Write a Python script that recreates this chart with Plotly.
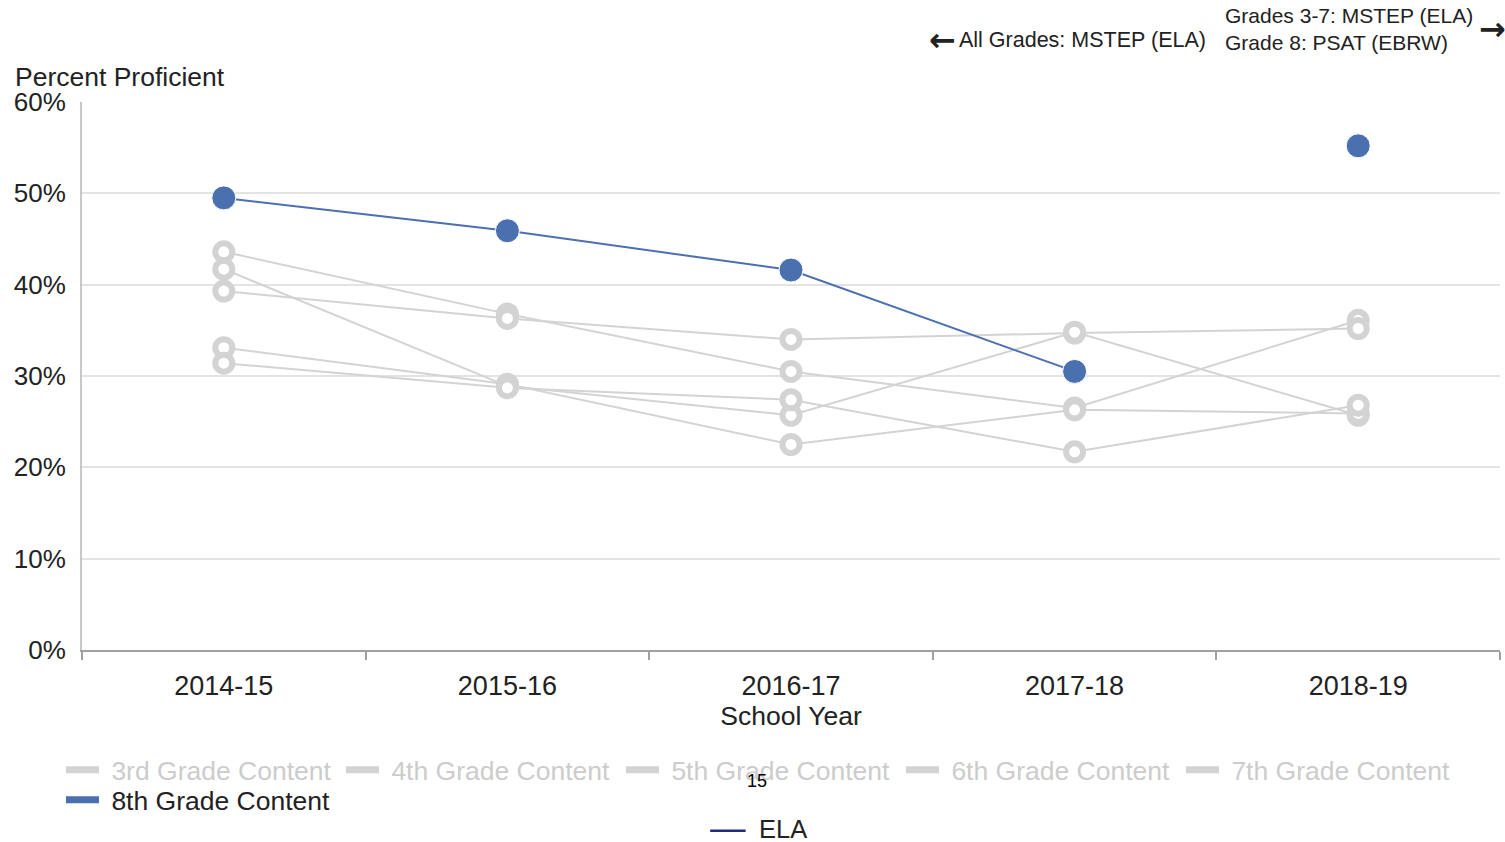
import plotly.graph_objects as go

# School years on the x axis
years = ['2014-15', '2015-16', '2016-17', '2017-18', '2018-19']

# Percent proficient by grade content
grade3 = [43.6, 36.8, 30.5, 26.5, 36.1]
grade4 = [39.3, 36.3, 34.0, 34.7, 35.2]
grade5 = [41.7, 28.9, 25.7, 34.8, 25.7]
grade6 = [33.1, 29.1, 22.5, 26.3, 25.9]
grade7 = [31.4, 28.7, 27.4, 21.7, 26.8]
grade8 = [49.5, 45.9, 41.6, 30.5, 55.2]

grey_names = ['3rd Grade Content', '4th Grade Content', '5th Grade Content',
              '6th Grade Content', '7th Grade Content']
grey_series = [grade3, grade4, grade5, grade6, grade7]

yticks = [0, 10, 20, 30, 40, 50, 60]
ytick_labels = ['0%', '10%', '20%', '30%', '40%', '50%', '60%']

GREY = '#d3d3d3'
BLUE = '#4a70b0'
FONT = 'Liberation Sans, Arial, sans-serif'
TXT = '#222222'

fig = go.Figure()

# grey grade lines (open rings)
for name, vals in zip(grey_names, grey_series):
    fig.add_trace(go.Scatter(
        x=years, y=vals, mode='lines+markers', name=name, showlegend=False,
        line=dict(color=GREY, width=2),
        marker=dict(symbol='circle', size=17, color='white',
                    line=dict(color=GREY, width=6)),
        cliponaxis=False
    ))

# 8th grade: line only through 2017-18 (test changes in 2018-19)
fig.add_trace(go.Scatter(
    x=years[:4], y=grade8[:4], mode='lines', showlegend=False,
    line=dict(color=BLUE, width=2)
))
fig.add_trace(go.Scatter(
    x=years, y=grade8, mode='markers', showlegend=False,
    marker=dict(size=24, color=BLUE, line=dict(color='white', width=1)),
    cliponaxis=False
))

# legend entries (thick bar symbols); 8th grade sits on its own row
for name in grey_names:
    fig.add_trace(go.Scatter(
        x=[None], y=[None], mode='lines',
        name="<span style='color:#cccccc'>\u00a0%s</span>" % name,
        line=dict(color=GREY, width=7), legend='legend'
    ))
fig.add_trace(go.Scatter(
    x=[None], y=[None], mode='lines', name='\u00a08th Grade Content',
    line=dict(color=BLUE, width=7), legend='legend2'
))

legend_style = dict(
    orientation='h', xanchor='left', yanchor='top',
    entrywidth=232, entrywidthmode='pixels', itemwidth=33,
    font=dict(size=26.5, color=TXT), bgcolor='rgba(0,0,0,0)',
    itemclick=False, itemdoubleclick=False
)

fig.update_layout(
    width=1505, height=842,
    margin=dict(l=82, r=5, t=102, b=192),
    plot_bgcolor='white', paper_bgcolor='white',
    font=dict(family=FONT, size=26, color=TXT),
    showlegend=True,
    legend=dict(legend_style, x=-0.0148, y=-0.175),
    legend2=dict(legend_style, x=-0.0148, y=-0.230),
    xaxis=dict(
        type='category', range=[-0.5, 4.5],
        showline=True, linecolor='#a0a0a0', linewidth=2,
        ticks='outside', tickson='boundaries', ticklen=8, tickcolor='#a0a0a0', tickwidth=2,
        showgrid=False, tickfont=dict(size=27, color=TXT), ticklabelstandoff=11,
        title=dict(text='School Year', font=dict(size=26.5, color=TXT), standoff=6)
    ),
    yaxis=dict(
        range=[0, 60], tickvals=yticks, ticktext=ytick_labels,
        showline=True, linecolor='#c8c8c8', linewidth=2,
        showgrid=True, gridcolor='#e3e3e3', gridwidth=2,
        zeroline=False, ticks='', ticklabelstandoff=9,
        tickfont=dict(size=26, color=TXT)
    ),
    annotations=[
        dict(text='Percent Proficient', x=-0.0486, y=1.0456, xref='paper', yref='paper',
             xanchor='left', yanchor='middle', showarrow=False,
             font=dict(size=26.5, color=TXT)),
        dict(text='<b>←</b>', x=0.596, y=1.113, xref='paper', yref='paper',
             xanchor='left', yanchor='middle', showarrow=False,
             font=dict(family='DejaVu Sans', size=32, color=TXT)),
        dict(text='All Grades: MSTEP (ELA)', x=0.617, y=1.113, xref='paper', yref='paper',
             xanchor='left', yanchor='middle', showarrow=False,
             font=dict(size=21.5, color=TXT)),
        dict(text='Grades 3-7: MSTEP (ELA)<br>Grade 8: PSAT (EBRW)', x=0.8047, y=1.134,
             xref='paper', yref='paper', xanchor='left', yanchor='middle', align='left',
             showarrow=False, font=dict(size=21, color=TXT)),
        dict(text='<b>→</b>', x=0.9944, y=1.134, xref='paper', yref='paper',
             xanchor='center', yanchor='middle', showarrow=False,
             font=dict(family='DejaVu Sans', size=32, color=TXT)),
        dict(text='15', x=0.476, y=-0.239, xref='paper', yref='paper',
             xanchor='center', yanchor='middle', showarrow=False,
             font=dict(size=18, color='#000000')),
        dict(text='ELA', x=0.476, y=-0.327, xref='paper', yref='paper',
             xanchor='left', yanchor='middle', showarrow=False,
             font=dict(size=25.5, color=TXT)),
    ],
    shapes=[
        dict(type='line', xref='paper', yref='paper', x0=0.443, x1=0.468,
             y0=-0.330, y1=-0.330, line=dict(color='#1f2a80', width=2.5))
    ]
)

# drop the default page margin so the figure sits at the window's corner
fig.write_html('out.html', config={'displayModeBar': False},
               post_script="document.body.style.margin='0';")
